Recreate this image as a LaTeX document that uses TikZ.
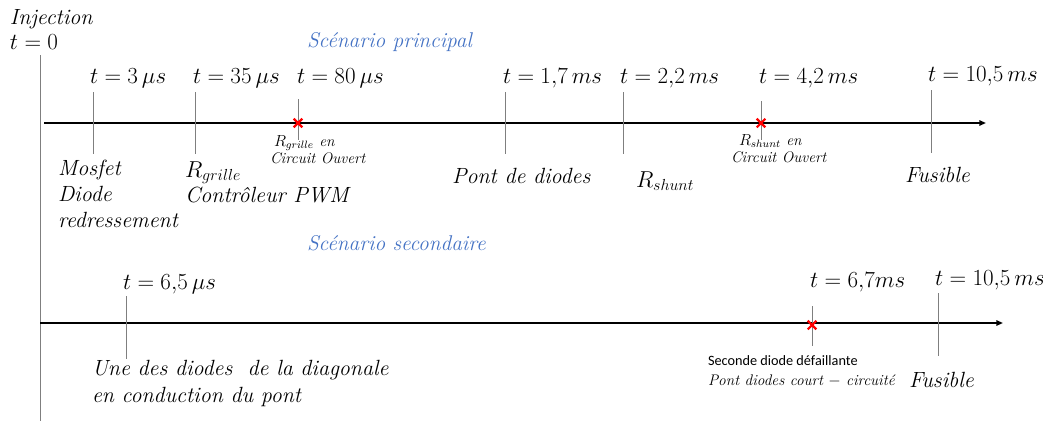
\documentclass[tikz,border=0pt]{standalone}
\usepackage{fontspec}
\newfontfamily\carlito{Carlito}
\usetikzlibrary{arrows.meta,shapes.misc}
\definecolor{scblue}{HTML}{4472C4}
\definecolor{tickgray}{HTML}{7F7F7F}
\begin{document}
\begin{tikzpicture}[x=0.75pt,y=-0.75pt,
  every node/.style={inner sep=0pt,outer sep=0pt},
  big/.style={font=\itshape\fontsize{16.5}{19.5}\selectfont,align=left,anchor=base west},
  tlab/.style={font=\fontsize{16.5}{19.5}\selectfont,anchor=base west},
  small/.style={font=\itshape\fontsize{11.5}{12.75}\selectfont,align=left,anchor=base west},
  scen/.style={font=\itshape\fontsize{16}{18}\selectfont,text=scblue,anchor=base west},
  timeline/.style={line width=1.5pt,-{Triangle[length=5pt,width=4pt]}},
  tick/.style={draw=tickgray,line width=0.6pt},
  fail/.style={cross out,draw=red,line width=1.6pt,minimum size=6.5pt}]
\useasboundingbox (0,0) rectangle (1043,421);
% axis t=0
\coordinate (v0) at (40,55);
\coordinate (v1) at (40,421);
\draw[tick] (v0) -- (v1);
\node[big] (inj) at (10,25) {Injection};
\node[tlab] (t0) at (10,50) {$t = 0$};
% principal
\node[scen] (sp) at (307,47) {Scénario principal};
\coordinate (a0) at (44,123);
\coordinate (a1) at (986,123);
\draw[timeline] (a0) -- (a1);
% ticks
\coordinate (k1a) at (93,92);   \coordinate (k1b) at (93,154);
\coordinate (k2a) at (195,92);  \coordinate (k2b) at (195,154);
\coordinate (k3a) at (298,99);  \coordinate (k3b) at (298,140);
\coordinate (k4a) at (505,92);  \coordinate (k4b) at (505,154);
\coordinate (k5a) at (623,92);  \coordinate (k5b) at (623,154);
\coordinate (k6a) at (761,101); \coordinate (k6b) at (761,140);
\coordinate (k7a) at (931,90);  \coordinate (k7b) at (931,153);
\foreach \k in {1,...,7} {\draw[tick] (k\k a) -- (k\k b);}
\node[fail] (x1) at (298,123) {};
\node[fail] (x2) at (761,123) {};
\node[tlab] (l1) at (90,83) {$t = 3\,\mu s$};
\node[tlab] (l2) at (193,83) {$t = 35\,\mu s$};
\node[tlab] (l3) at (297,83) {$t = 80\,\mu s$};
\node[tlab] (l4) at (503,83) {$t = 1{,}7\,ms$};
\node[tlab] (l5) at (620,83) {$t = 2{,}2\,ms$};
\node[tlab] (l6) at (759,83) {$t = 4{,}2\,ms$};
\node[tlab] (l7) at (928,81) {$t = 10{,}5\,ms$};
\node[big] (d1) at (58,227) {Mosfet\\Diode\\redressement};
\node[big] (d2) at (185,202) {$R_{grille}$\\[-1pt]Contrôleur PWM};
\node[small] (d3) at (270,163) {\hspace*{3pt}$R_{grille}$ en\\Circuit Ouvert};
\node[big] (d4) at (452,183) {Pont de diodes};
\node[big] (d5) at (636,187) {$R_{shunt}$};
\node[small] (d6) at (731,162) {\hspace*{6pt}$R_{shunt}$ en\\Circuit Ouvert};
\node[big] (d7) at (905,182) {Fusible};
% secondaire
\node[scen] (ss) at (307,250) {Scénario secondaire};
\coordinate (b0) at (40,323);
\coordinate (b1) at (1003,323);
\draw[timeline] (b0) -- (b1);
\coordinate (m1a) at (126,296); \coordinate (m1b) at (126,359);
\coordinate (m2a) at (812,306); \coordinate (m2b) at (812,346);
\coordinate (m3a) at (938,293); \coordinate (m3b) at (938,356);
\foreach \k in {1,2,3} {\draw[tick] (m\k a) -- (m\k b);}
\node[fail] (x3) at (812,325) {};
\node[tlab] (s1) at (123,289) {$t = 6{,}5\,\mu s$};
\node[tlab] (s2) at (810,287) {$t = 6{,}7 ms$};
\node[tlab] (s3) at (935,285) {$t = 10{,}5\,ms$};
\node[big] (e1) at (92,402) {Une des diodes\ \ de la diagonale\\[0.5pt]en conduction du pont};
\node[font=\carlito\fontsize{10.7}{12}\selectfont,anchor=base west] (e2) at (708,365) {Seconde diode défaillante};
\node[small] (e3) at (708,385) {Pont diodes court $-$ circuité};
\node[big] (e4) at (909,387) {Fusible};
\end{tikzpicture}
\end{document}
